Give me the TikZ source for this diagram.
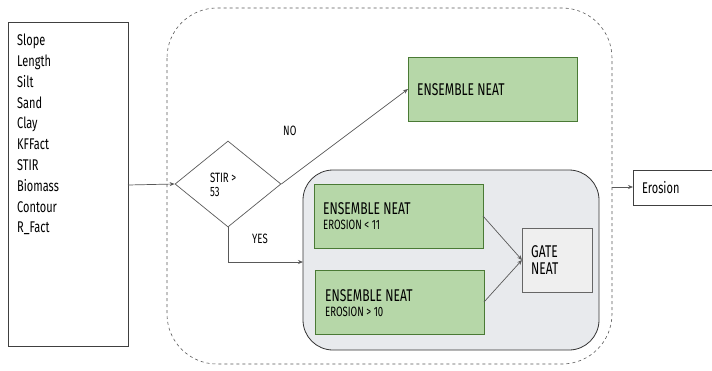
\documentclass[tikz,border=0pt]{standalone}
\usepackage{fontspec}
\setmainfont{Fira Sans}[FakeStretch=0.71]
\usetikzlibrary{arrows.meta,shapes.geometric}
\definecolor{edge}{HTML}{595959}
\definecolor{greenfill}{HTML}{B6D7A8}
\definecolor{greenline}{HTML}{4A7A35}
\definecolor{panelfill}{HTML}{E8EAED}
\definecolor{gatefill}{HTML}{EFEFEF}
\tikzset{
  link/.style={draw=edge, line width=0.7pt, -{Stealth[length=5pt,width=4pt]}},
  txt/.style={font=\fontsize{15.5}{18}\selectfont, inner sep=0pt, anchor=base west},
  big/.style={txt, font=\fontsize{17}{20}\selectfont},
  small/.style={txt, font=\fontsize{13.5}{16}\selectfont},
  ensbox/.style={draw=greenline, fill=greenfill, line width=0.8pt},
}
\begin{document}
\begin{tikzpicture}[x=1pt,y=-1pt]
\useasboundingbox (0,0) rectangle (712,370);
% input variables
\draw[draw=black!75, line width=0.7pt] (8,22) rectangle (128,346);
\coordinate (inputs) at (128,185);
\foreach \t [count=\i from 0] in {Slope,Length,Silt,Sand,Clay,KFFact,STIR,Biomass,Contour,R\_Fact}
  \node[txt] at (17,{45.7+20.8*\i}) {\t};
% dashed model boundary
\draw[draw=edge, dashed, line width=0.6pt, rounded corners=50pt] (167,8) rectangle (612,364);
\coordinate (bright) at (612,187);
% decision
\node[diamond, draw=edge, line width=0.7pt, minimum width=106pt, minimum height=86pt, inner sep=0pt] (dec) at (228,184) {};
\node[small] at (210,182) {STIR >};
\node[small] at (210,196) {53};
% top ensemble
\draw[ensbox] (408,57) rectangle (577,121);
\coordinate (enstop) at (408,89);
\node[big] at (417,95) {ENSEMBLE NEAT};
% grey panel
\draw[draw=black!80, fill=panelfill, line width=0.8pt, rounded corners=30pt] (303,170) rectangle (599,350);
\coordinate (panel) at (303,262);
% inner ensembles
\draw[ensbox] (314,184) rectangle (483,248);
\node[big] at (323,214) {ENSEMBLE NEAT};
\node[small] at (323,229) {EROSION < 11};
\draw[ensbox] (315,270) rectangle (484,334);
\node[big] at (325,301) {ENSEMBLE NEAT};
\node[small] at (325,316) {EROSION > 10};
\coordinate (e1) at (483,216);
\coordinate (e2) at (484,302);
% gate
\draw[draw=black!60, fill=gatefill, line width=0.7pt] (522,228) rectangle (592,292);
\coordinate (gate) at (522,260);
\node[big] at (531,257) {GATE};
\node[big] at (531,274) {NEAT};
% output
\draw[draw=black!75, line width=0.7pt] (633,170) rectangle (714,205);
\coordinate (out) at (633,187);
\node[txt] at (642,193) {Erosion};
% connectors
\draw[link] (inputs) -- (dec.west);
\draw[link] (dec.east) -- (enstop);
\node[small] at (283,135) {NO};
\draw[link] (dec.south) |- (panel);
\node[small] at (252,243) {YES};
\draw[link] (e1) -- (gate);
\draw[link] (e2) -- (gate);
\draw[link] (bright) -- (out);
\end{tikzpicture}
\end{document}
